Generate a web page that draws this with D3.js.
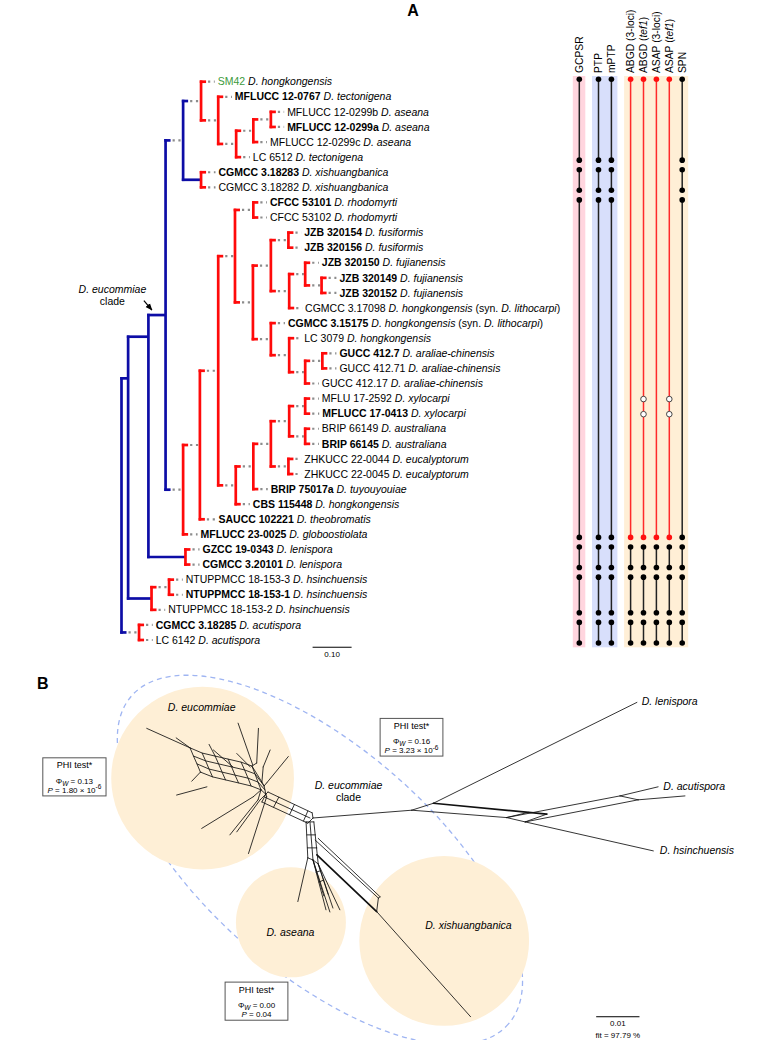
<!DOCTYPE html>
<html>
<head>
<meta charset="utf-8">
<script src="https://cdn.jsdelivr.net/npm/d3@7/dist/d3.min.js"></script>
<style>
html,body{margin:0;padding:0;background:#fff;}
svg{display:block;}
text{font-family:"Liberation Sans", Arial, Helvetica, sans-serif; white-space:pre;}
</style>
</head>
<body>
<svg id="chart" width="779" height="1040"></svg>
<script>
// ---------------- DATA: panel A ----------------
const tipStrains = ["SM42","MFLUCC 12-0767","MFLUCC 12-0299b","MFLUCC 12-0299a","MFLUCC 12-0299c","LC 6512","CGMCC 3.18283","CGMCC 3.18282","CFCC 53101","CFCC 53102","JZB 320154","JZB 320156","JZB 320150","JZB 320149","JZB 320152","CGMCC 3.17098","CGMCC 3.15175","LC 3079","GUCC 412.7","GUCC 412.71","GUCC 412.17","MFLU 17-2592","MFLUCC 17-0413","BRIP 66149","BRIP 66145","ZHKUCC 22-0044","ZHKUCC 22-0045","BRIP 75017a","CBS 115448","SAUCC 102221","MFLUCC 23-0025","GZCC 19-0343","CGMCC 3.20101","NTUPPMCC 18-153-3","NTUPPMCC 18-153-1","NTUPPMCC 18-153-2","CGMCC 3.18285","LC 6142"];
const tipSpecies = ["D. hongkongensis","D. tectonigena","D. aseana","D. aseana","D. aseana","D. tectonigena","D. xishuangbanica","D. xishuangbanica","D. rhodomyrti","D. rhodomyrti","D. fusiformis","D. fusiformis","D. fujianensis","D. fujianensis","D. fujianensis","D. hongkongensis","D. hongkongensis","D. hongkongensis","D. araliae-chinensis","D. araliae-chinensis","D. araliae-chinensis","D. xylocarpi","D. xylocarpi","D. australiana","D. australiana","D. eucalyptorum","D. eucalyptorum","D. tuyouyouiae","D. hongkongensis","D. theobromatis","D. globoostiolata","D. lenispora","D. lenispora","D. hsinchuensis","D. hsinchuensis","D. hsinchuensis","D. acutispora","D. acutispora"];
const tipSynonyms = {16:"D. lithocarpi", 17:"D. lithocarpi"};
const typeStrains = ["MFLUCC 12-0767","MFLUCC 12-0299a","CGMCC 3.18283","CFCC 53101","JZB 320154","JZB 320156","JZB 320150","JZB 320149","JZB 320152","CGMCC 3.15175","GUCC 412.7","MFLUCC 17-0413","BRIP 66145","BRIP 75017a","CBS 115448","SAUCC 102221","MFLUCC 23-0025","GZCC 19-0343","CGMCC 3.20101","NTUPPMCC 18-153-1","CGMCC 3.18285"];
const newStrains = ["SM42"];
const tipParents = ["N5","N6","N9","N9","N8","N7","X","X","Rh","Rh","Fu","Fu","F","G","G","E","D","H","J","J","I","T","T","Br","Br","Eu","Eu","M","L","P","R1","Le","Le","HS2","HS2","HS","AC","AC"];
const tipDepths = [0.239,0.283,0.417,0.417,0.373,0.329,0.241,0.241,0.373,0.373,0.461,0.461,0.506,0.551,0.551,0.463,0.419,0.461,0.551,0.551,0.506,0.506,0.507,0.506,0.506,0.461,0.461,0.375,0.329,0.241,0.195,0.200,0.200,0.157,0.157,0.112,0.080,0.080];
const nodeIds     = ["root","N1","N2","N3","N4","N5","N6","N7","N8","N9","X","R1","P","K","A","Rh","B","C","Fu","E","F","G","D","H","I","J","L","M","Q","S","T","Br","Eu","Le","HS","HS2","AC"];
const nodeParents = ["","root","N1","N2","N3","N4","N5","N6","N7","N8","N4","N3","R1","P","K","A","A","B","C","C","E","F","B","D","H","I","K","L","M","Q","S","S","Q","N2","N1","HS","root"];
const nodeDepths  = [0,0.017,0.069,0.113,0.158,0.204,0.248,0.294,0.338,0.383,0.204,0.158,0.201,0.248,0.291,0.338,0.337,0.383,0.428,0.430,0.471,0.513,0.383,0.430,0.471,0.515,0.293,0.338,0.383,0.430,0.471,0.471,0.428,0.164,0.077,0.122,0.045];
const backboneNodes = ["root","N1","N2","N3","N4"];
const backboneRows = {N2: 17.9, N1: 20.66};
const solidBranches = ["N1","N2","N3","Le","HS","X"];
const cladeNode = "N3";

const methods = ["GCPSR","PTP","mPTP","ABGD (3-loci)","ABGD (tef1)","ASAP (3-loci)","ASAP (tef1)","SPN"];
const methodBand = [0,1,1,2,2,2,2,2];
const groupsSplit  = [[1,6,0],[7,8,0],[9,31,0],[32,33,0],[34,36,0],[37,38,0]];
const groupsMerged = [[1,31,1],[32,33,0],[34,36,0],[37,38,0]];
const methodGroups = [groupsSplit,groupsSplit,groupsSplit,groupsMerged,groupsMerged,groupsMerged,groupsMerged,groupsSplit];
const methodSingletons = [[],[],[],[],[22,23],[],[22,23],[]];
const bandColors = ["#ffd5de","#d8dffb","#ffefd6"];

// ---------------- DATA: panel B (network units = 0.001 subst./site, origin at central hub) ----------------
const netThin = [
 [0,0,22.8,-1.8],[22.8,-1.8,27.8,-3.4],[27.8,-3.4,74.8,-26.7],[22.8,-1.8,44.7,-0.1],[44.7,-0.1,49.0,0.9],
 [54.0,-0.9,49.0,0.9],[44.7,-0.1,49.7,-1.3],[49.0,0.9,78.6,7.6],[44.7,-0.1,70.9,-5.1],[70.9,-5.1,79.7,-7.2],
 [49.0,0.9,75.1,-4.2],[75.1,-4.2,85.9,-5.1],[70.9,-5.1,75.1,-4.2],
 [-10.4,-6.0,-0.2,-1.2],[-11.1,-4.8,-0.7,0],[-11.8,-3.7,-1.2,1.2],
 [-7.9,-4.8,-9.1,-2.5],[-4.3,-3.1,-5.4,-0.8],[-1.2,-1.6,-2.2,0.7],[-0.2,-1.2,0,0],[-1.2,1.2,0,0],
 [-10.9,-5.5,-10.4,-6.0],[-10.9,-5.5,-11.8,-3.7],
 [-1.6,0.9,-1.2,9.2],[-0.7,0.9,0,9.7],[0.2,0.9,1.2,10.6],[-1.4,3.9,0.6,3.9],[-1.3,6.9,0.9,6.9],[-1.6,0.9,0.2,0.9],
 [-1.2,9.2,-3.5,19.3],[0,9.7,3.0,21.2],[1.2,10.6,4.6,20.8],[1.2,10.6,6.2,21.2],[0,9.7,3.9,21.7],
 [0,9.7,2.5,18.0],[1.2,10.6,3.5,17.6],[0.7,12.5,1.7,12.2],[1.4,14.8,2.5,14.3],[-1.2,9.2,0,9.7],[0,9.7,1.2,10.6],
 [0.5,5.1,15.1,18.5],[1.2,4.7,15.5,18.2],[15.1,18.5,14.7,21.6],[15.5,18.2,15.1,18.5],[14.7,21.6,36.4,45.9],
 [-28.4,-16.2,-38.4,-20.7],[-28.4,-16.2,-31.6,-18.5],[-24.5,-7.2,-31.5,-5.3],[-13.8,-4.9,-25.7,2.4],
 [-12.2,-4.2,-17.6,3.2],[-10.7,-4.9,-14.9,8.2],[-12.7,-4.2,-19.2,3.9],[-18.5,-11.8,-23.0,-15.7],
 [-14.5,-11.8,-17.6,-14.9],[-13.9,-12.2,-17.3,-21.9],[-13.0,-12.7,-12.6,-20.7],[-11.5,-11.8,-9.9,-15.7],
 [-10.7,-8.1,-5.7,-14.2],[-22.6,-14.3,-24.0,-17.0],[-26.0,-10.6,-28.0,-8.5],
 [-13.8,-4.9,-12.0,-6.5],[-12.2,-4.2,-10.9,-5.5],[-10.7,-4.9,-10.9,-5.5],[-12.7,-4.2,-12.0,-6.5],
 [-11.5,-11.8,-11.8,-8.3],[-13.0,-12.7,-14.1,-12.0],[-10.7,-8.1,-11.3,-7.4]
];
const netHeavy = [[27.8,-3.4,54.0,-0.9],[0.9,8.5,14.7,21.6]];
const webRows = [
 [[-28.4,-16.2],[-25.6,-15.0],[-22.6,-14.3],[-19.6,-13.6],[-16.6,-12.9],[-14.1,-12.0],[-11.8,-8.3]],
 [[-27.6,-14.3],[-24.8,-13.2],[-21.8,-12.5],[-18.8,-11.8],[-15.8,-11.1],[-13.4,-10.2],[-11.3,-7.4]],
 [[-26.8,-12.5],[-24.0,-11.3],[-21.0,-10.6],[-18.0,-9.9],[-15.0,-9.2],[-12.7,-8.3],[-11.1,-6.5]],
 [[-26.0,-10.6],[-23.2,-9.5],[-20.2,-8.8],[-17.2,-8.1],[-14.3,-7.4],[-12.0,-6.5],[-10.9,-5.5]]
];
const circleNames = ["D. eucommiae","D. aseana","D. xishuangbanica"];
const circleCenters = [[-25.5,-9.2],[-5.1,24.1],[30.3,28.4]];
const circleRadii = [21.1,12.7,19.6];
const circleLabelPos = [[-25.7,-25.5],[-5.2,26.4],[35.9,24.9]];
const cladeEllipse = {cx:1.6, cy:9.7, rx:57.7, ry:26.1, angle:41};
const outgroupNames = ["D. lenispora","D. acutispora","D. hsinchuensis"];
const outgroupLabelPos = [[75.9,-27.0],[80.9,-7.2],[80.1,7.4]];
const phiBoxes = [[-62.4,-13.9,-47.8,-5.1],[15.5,-23.0,30.0,-14.3],[-20.3,37.9,-5.8,46.7]];
const phiW = ["0.13","0.16","0.00"];
const phiP = ["1.80 × 10","3.23 × 10","0.04"];
const phiExp = ["-6","-6",""];
const netScaleBar = [65.4,75.4,45.9];
const netFit = "fit = 97.79 %";

// ---------------- DRAW ----------------
const svg = d3.select("#chart");
const BLUE = "#0d0da6", RED = "#ff0a0a", GREY = "#8c8c8c";
const FS = 10.5;

svg.append("text").attr("x",413).attr("y",16).attr("font-size",16).attr("font-weight","bold").attr("text-anchor","middle").text("A");
svg.append("text").attr("x",37).attr("y",689).attr("font-size",16).attr("font-weight","bold").text("B");

const yRow = d3.scaleLinear().domain([1,38]).range([81.7,640]);
const xDepth = d3.scaleLinear().domain([0,0.1]).range([121.5,160.5]);

const table = nodeIds.map((id,i)=>({id, parent:nodeParents[i], depth:nodeDepths[i]}))
  .concat(tipStrains.map((s,i)=>({id:"t"+(i+1), parent:tipParents[i], depth:tipDepths[i], row:i+1})));
const root = d3.stratify().id(d=>d.id).parentId(d=>d.parent||null)(table);
root.eachAfter(n=>{
  if(!n.children) n.r = n.data.row;
  else if(backboneRows[n.id]!=null) n.r = backboneRows[n.id];
  else { const rs = n.children.map(c=>c.r); n.r = (d3.min(rs)+d3.max(rs))/2; }
});
root.each(n=>{ n.px = xDepth(n.data.depth); n.py = yRow(n.r); });

const gTree = svg.append("g");
const gGrey = gTree.append("g"), gCol = gTree.append("g"), gLab = gTree.append("g");
const STUB = 5;
root.descendants().filter(n=>n.children).forEach(n=>{
  const col = backboneNodes.includes(n.id) ? BLUE : RED;
  const ys = n.children.map(c=>c.py);
  gCol.append("line").attr("x1",n.px).attr("x2",n.px).attr("y1",d3.min(ys)-1.3).attr("y2",d3.max(ys)+1.3)
    .attr("stroke",col).attr("stroke-width",2.7);
  n.children.forEach(c=>{
    const L = c.px - n.px;
    const cl = solidBranches.includes(c.id) ? L : Math.min(STUB, L);
    gCol.append("line").attr("x1",n.px-1.3).attr("x2",n.px+cl).attr("y1",c.py).attr("y2",c.py)
      .attr("stroke",col).attr("stroke-width",2.7);
    if(cl < L-1){
      gGrey.append("line").attr("x1",n.px+cl+2).attr("x2",c.px-(c.children?1.3:0)).attr("y1",c.py).attr("y2",c.py)
        .attr("stroke",GREY).attr("stroke-width",2.2).attr("stroke-dasharray","2.2,3.6");
    }
  });
});
root.leaves().forEach(t=>{
  const i = t.data.row-1, s = tipStrains[i];
  const tx = gLab.append("text").attr("x",t.px+3).attr("y",t.py).attr("dy","0.35em").attr("font-size",FS);
  tx.append("tspan").text(s).attr("font-weight",typeStrains.includes(s)?"bold":"normal")
    .attr("fill",newStrains.includes(s)?"#3c9a3c":"#000");
  tx.append("tspan").text(" "+tipSpecies[i]).attr("font-style","italic");
  if(tipSynonyms[i+1]){
    tx.append("tspan").text(" (syn. ");
    tx.append("tspan").text(tipSynonyms[i+1]).attr("font-style","italic");
    tx.append("tspan").text(")");
  }
});
const cn = root.find(n=>n.id===cladeNode);
const cp = cn.parent;
svg.append("defs").append("marker").attr("id","arr").attr("viewBox","0 0 10 10").attr("refX",9).attr("refY",5)
  .attr("markerWidth",6).attr("markerHeight",6).attr("orient","auto")
  .append("path").attr("d","M0,1 L10,5 L0,9 Z").attr("fill","#000");
svg.append("line").attr("x1",cp.px-4.5).attr("y1",cn.py-14.5).attr("x2",cp.px+3.5).attr("y2",cn.py-5)
  .attr("stroke","#000").attr("stroke-width",1.2).attr("marker-end","url(#arr)");
const cl = svg.append("text").attr("font-size",FS).attr("text-anchor","middle");
cl.append("tspan").attr("x",cp.px-36).attr("y",cn.py-25.3).attr("dy","0.35em").attr("font-style","italic").text("D. eucommiae");
cl.append("tspan").attr("x",cp.px-36).attr("y",cn.py-13.3).attr("dy","0.35em").text("clade");
const sbY = yRow(38.48);
svg.append("line").attr("x1",xDepth(0.49)).attr("x2",xDepth(0.59)).attr("y1",sbY).attr("y2",sbY).attr("stroke","#000").attr("stroke-width",1);
svg.append("text").attr("x",xDepth(0.54)).attr("y",sbY+7).attr("dy","0.35em").attr("text-anchor","middle").attr("font-size",8).text("0.10");

const COLSTEP = 12.9, BANDGAP = 6.3;
const colX = methods.map((m,i)=>579.3 + i*COLSTEP + methodBand[i]*BANDGAP);
const yTop = yRow(1)-5.7, yBot = yRow(38)+7.3;
d3.range(3).forEach(b=>{
  const xs = colX.filter((x,i)=>methodBand[i]===b);
  svg.append("rect").attr("x",d3.min(xs)-6.5).attr("y",yTop).attr("width",d3.max(xs)-d3.min(xs)+12.5)
    .attr("height",yBot-yTop).attr("fill",bandColors[b]);
});
methods.forEach((m,i)=>{
  const x = colX[i];
  const t = svg.append("text").attr("transform",`translate(${x},73) rotate(-90)`).attr("dy","0.35em").attr("font-size",10.3);
  const mm = m.match(/^(.*\()(tef1)(\))$/);
  if(mm){ t.append("tspan").text(mm[1]); t.append("tspan").text(mm[2]).attr("font-style","italic"); t.append("tspan").text(mm[3]); }
  else t.text(m);
  methodGroups[i].forEach(([a,b,red])=>{
    const y1 = yRow(a)-2.5, y2 = yRow(b)+3;
    svg.append("line").attr("x1",x).attr("x2",x).attr("y1",y1).attr("y2",y2)
      .attr("stroke",red?"#ff2a2a":"#222").attr("stroke-width",1.5);
    [y1,y2].forEach(y=>svg.append("circle").attr("cx",x).attr("cy",y).attr("r",2.8).attr("fill",red?"#ff1010":"#000"));
  });
  methodSingletons[i].forEach(r=>{
    svg.append("circle").attr("cx",x).attr("cy",yRow(r)+0.5).attr("r",2.8).attr("fill","#fff").attr("stroke","#333").attr("stroke-width",0.9);
  });
});

// ---------------- Panel B ----------------
const nx = d3.scaleLinear().domain([0,10]).range([313,356.3]);
const ny = d3.scaleLinear().domain([0,10]).range([818,861.3]);
const k = (nx(10)-nx(0))/10;
const gB = svg.append("g");
const E = cladeEllipse;
gB.append("ellipse").attr("cx",nx(E.cx)).attr("cy",ny(E.cy)).attr("rx",E.rx*k).attr("ry",E.ry*k)
  .attr("transform",`rotate(${E.angle},${nx(E.cx)},${ny(E.cy)})`)
  .attr("fill","none").attr("stroke","#9fb5f2").attr("stroke-width",1.3).attr("stroke-dasharray","5,4");
circleCenters.forEach((c,i)=>{
  gB.append("circle").attr("cx",nx(c[0])).attr("cy",ny(c[1])).attr("r",circleRadii[i]*k).attr("fill","#feefd6");
});
const gN = gB.append("g").attr("stroke","#111").attr("fill","none").attr("stroke-linecap","round");
netThin.forEach(s=>gN.append("line").attr("x1",nx(s[0])).attr("y1",ny(s[1])).attr("x2",nx(s[2])).attr("y2",ny(s[3])).attr("stroke-width",0.85));
netHeavy.forEach(s=>gN.append("line").attr("x1",nx(s[0])).attr("y1",ny(s[1])).attr("x2",nx(s[2])).attr("y2",ny(s[3])).attr("stroke-width",1.7));
const lineGen = d3.line().x(p=>nx(p[0])).y(p=>ny(p[1]));
webRows.forEach(r=>gN.append("path").attr("d",lineGen(r)).attr("stroke-width",0.85));
webRows[0].forEach((p,j)=>gN.append("path").attr("d",lineGen(webRows.map(r=>r[j]))).attr("stroke-width",0.85));

circleNames.forEach((n,i)=>{
  gB.append("text").attr("x",nx(circleLabelPos[i][0])).attr("y",ny(circleLabelPos[i][1])).attr("dy","0.35em")
    .attr("text-anchor","middle").attr("font-size",FS).attr("font-style","italic").text(n);
});
const ct = gB.append("text").attr("font-size",FS).attr("text-anchor","middle");
ct.append("tspan").attr("x",nx(8.2)).attr("y",ny(-7.6)).attr("dy","0.35em").attr("font-style","italic").text("D. eucommiae");
ct.append("tspan").attr("x",nx(8.2)).attr("y",ny(-4.8)).attr("dy","0.35em").text("clade");
outgroupNames.forEach((n,i)=>{
  gB.append("text").attr("x",nx(outgroupLabelPos[i][0])).attr("y",ny(outgroupLabelPos[i][1])).attr("dy","0.35em")
    .attr("font-size",FS).attr("font-style","italic").text(n);
});
phiBoxes.forEach((b,i)=>{
  const x0=nx(b[0]), y0=ny(b[1]), x1=nx(b[2]), y1=ny(b[3]), cx=(x0+x1)/2;
  gB.append("rect").attr("x",x0).attr("y",y0).attr("width",x1-x0).attr("height",y1-y0).attr("fill","#fff").attr("stroke","#555").attr("stroke-width",1);
  gB.append("text").attr("x",cx).attr("y",y0+7.5).attr("dy","0.35em").attr("text-anchor","middle").attr("font-size",9).text("PHI test*");
  const t2 = gB.append("text").attr("x",cx).attr("y",y0+23).attr("dy","0.35em").attr("text-anchor","middle").attr("font-size",8);
  t2.append("tspan").text("Φ"); t2.append("tspan").text("W").attr("font-size",6.5).attr("font-style","italic").attr("dy","2");
  t2.append("tspan").text(" = "+phiW[i]).attr("dy","-2");
  const t3 = gB.append("text").attr("x",cx).attr("y",y0+32).attr("dy","0.35em").attr("text-anchor","middle").attr("font-size",8);
  t3.append("tspan").text("P").attr("font-style","italic"); t3.append("tspan").text(" = "+phiP[i]);
  if(phiExp[i]) t3.append("tspan").text(phiExp[i]).attr("font-size",6.5).attr("dy","-3.5");
});
gB.append("line").attr("x1",nx(netScaleBar[0])).attr("x2",nx(netScaleBar[1])).attr("y1",ny(netScaleBar[2])).attr("y2",ny(netScaleBar[2])).attr("stroke","#000").attr("stroke-width",1);
gB.append("text").attr("x",nx((netScaleBar[0]+netScaleBar[1])/2)).attr("y",ny(netScaleBar[2])+6.6).attr("dy","0.35em").attr("text-anchor","middle").attr("font-size",8).text("0.01");
gB.append("text").attr("x",nx((netScaleBar[0]+netScaleBar[1])/2)).attr("y",ny(netScaleBar[2])+18.3).attr("dy","0.35em").attr("text-anchor","middle").attr("font-size",8).text(netFit);
</script>
</body>
</html>
